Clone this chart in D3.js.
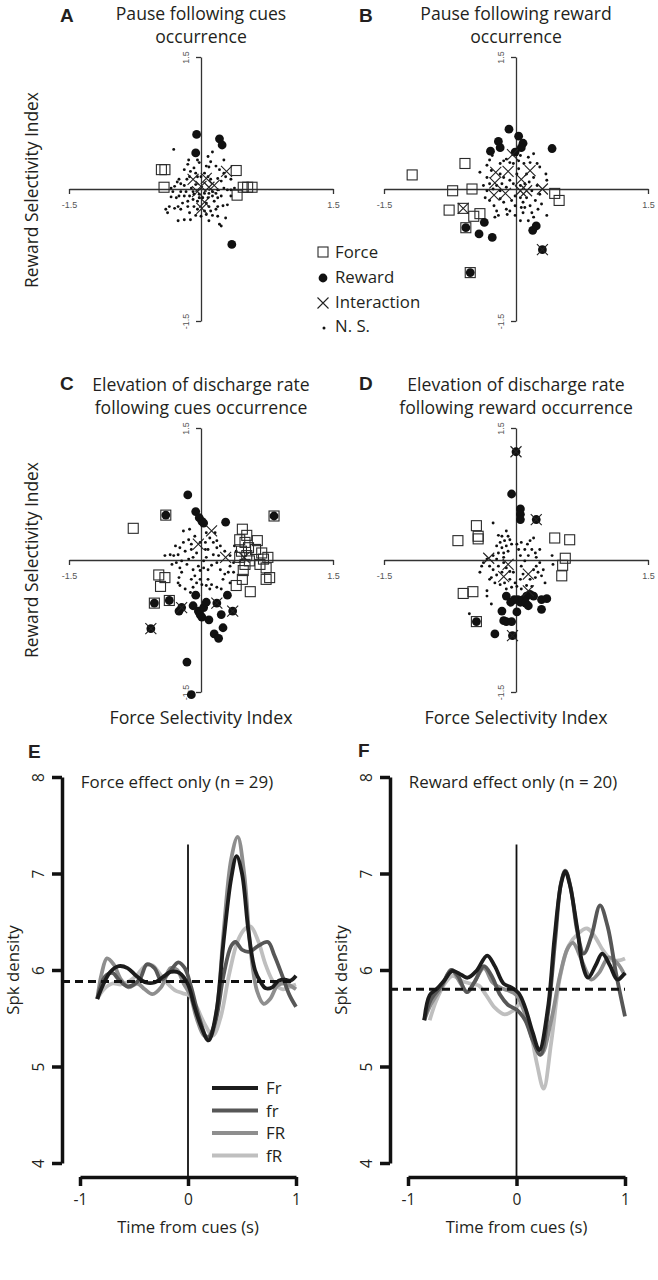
<!DOCTYPE html>
<html><head><meta charset="utf-8">
<script src="https://cdn.jsdelivr.net/npm/d3@7"></script>
<style>
body{margin:0;background:#fff;}
svg{display:block;font-family:"Open Sans",sans-serif;}
</style></head><body>
<svg id="c" width="658" height="1280"></svg>
<script>
// ---------- Scatter data (Force selectivity index, Reward selectivity index) ----------
const aForce = [[-0.45,0.22],[-0.41,0.22],[-0.42,0.02],[0.40,0.21],[0.41,-0.07],[0.48,0.02],[0.53,0.02],[0.58,0.02]];
const aReward = [[-0.05,0.62],[0.21,0.57],[0.24,0.50],[-0.06,0.41],[0.35,-0.63]];
const aInter = [[0.29,0.20],[-0.09,0.11],[0.06,0.12],[0.00,0.03],[0.09,0.02],[0.15,0.04],[0.04,-0.15],[0.01,-0.22],[-0.04,-0.03]];
const aNS = [[-0.31,0.45],[-0.14,0.33],[-0.04,0.33],[-0.02,0.30],[0.08,0.37],[0.11,0.31],[0.13,0.42],[0.26,0.33],[0.06,0.26],[0.09,0.25],[0.17,0.26],[0.21,0.22],[0.26,0.18],[0.28,0.14],[0.34,0.11],[-0.15,0.28],[-0.19,0.22],[-0.12,0.20],[-0.08,0.24],[-0.06,0.18],[-0.04,0.14],[-0.13,0.14],[-0.16,0.11],[-0.25,0.11],[-0.27,0.08],[-0.23,0.06],[-0.30,0.03],[-0.34,0.01],[-0.19,0.04],[-0.11,0.01],[-0.06,0.05],[0.00,0.14],[0.04,0.18],[0.08,0.14],[0.11,0.11],[0.19,0.12],[0.23,0.09],[0.26,0.01],[0.30,-0.01],[0.34,-0.01],[0.19,-0.01],[0.17,-0.05],[0.13,-0.03],[0.09,-0.05],[0.04,-0.05],[-0.02,-0.06],[-0.08,-0.06],[-0.13,-0.08],[-0.19,-0.08],[-0.25,-0.08],[-0.28,-0.10],[-0.34,-0.09],[-0.09,-0.12],[-0.15,-0.14],[-0.21,-0.16],[-0.26,-0.20],[-0.30,-0.22],[-0.36,-0.20],[-0.40,-0.23],[-0.38,-0.27],[-0.23,-0.23],[-0.15,-0.20],[-0.08,-0.20],[-0.04,-0.23],[0.06,-0.16],[0.09,-0.20],[0.11,-0.25],[0.15,-0.14],[0.19,-0.20],[0.25,-0.19],[0.30,-0.18],[0.13,-0.08],[0.19,-0.10],[0.23,-0.08],[0.08,-0.10],[-0.04,-0.14],[-0.13,-0.27],[-0.06,-0.30],[0.06,-0.29],[0.13,-0.30],[0.19,-0.31],[-0.26,-0.36],[-0.19,-0.35],[-0.12,-0.35],[0.09,-0.36],[0.21,-0.40],[0.23,-0.42],[0.28,-0.33],[0.17,-0.23],[0.04,-0.25],[0.00,-0.31],[-0.02,-0.10],[0.02,-0.10],[-0.09,-0.03],[-0.17,-0.03],[-0.23,-0.03],[-0.32,-0.03],[0.34,-0.08],[0.38,0.01]];

const bForce = [[-0.58,0.29],[-1.18,0.16],[-0.72,-0.02],[-0.50,0.00],[-0.76,-0.24],[-0.60,-0.22],[-0.48,-0.31],[-0.41,-0.28],[-0.57,-0.44],[-0.52,-0.95],[0.44,-0.05],[0.49,-0.13]];
const bReward = [[-0.08,0.68],[0.03,0.60],[0.08,0.52],[0.06,0.47],[-0.20,0.54],[-0.18,0.47],[-0.29,0.43],[-0.01,0.42],[0.41,0.46],[-0.36,-0.38],[-0.42,-0.51],[-0.27,-0.55],[-0.57,-0.44],[0.19,-0.47],[0.23,-0.42],[0.30,-0.69],[-0.52,-0.95]];
const bInter = [[-0.04,0.39],[-0.23,0.19],[-0.09,0.20],[0.16,0.21],[0.06,0.11],[-0.24,0.07],[0.12,-0.02],[0.30,0.00],[-0.25,-0.07],[-0.12,-0.05],[0.05,-0.02],[-0.60,-0.22],[0.30,-0.69]];
const bNS = [[-0.41,0.19],[-0.33,0.27],[-0.28,0.21],[-0.33,0.13],[-0.37,0.04],[-0.33,-0.02],[-0.35,-0.10],[-0.30,-0.13],[-0.25,-0.19],[-0.22,-0.25],[-0.20,-0.30],[-0.24,-0.32],[-0.18,0.29],[-0.14,0.32],[-0.11,0.34],[-0.07,0.30],[-0.03,0.29],[0.03,0.32],[0.05,0.38],[0.14,0.36],[0.20,0.40],[0.24,0.29],[0.27,0.25],[0.34,0.17],[0.35,0.10],[0.20,0.13],[0.24,0.04],[0.18,-0.02],[0.12,-0.10],[0.08,-0.15],[0.10,-0.21],[0.16,-0.19],[0.22,-0.13],[0.25,-0.23],[0.20,-0.32],[0.14,-0.36],[0.05,-0.36],[-0.01,-0.30],[-0.07,-0.25],[-0.11,-0.23],[-0.14,-0.15],[-0.18,-0.11],[-0.11,0.02],[-0.16,0.06],[-0.14,0.13],[-0.18,0.17],[-0.07,0.10],[-0.03,0.06],[0.01,0.17],[0.03,0.23],[0.09,0.29],[0.12,0.17],[0.15,0.08],[0.05,0.04],[-0.05,-0.13],[-0.01,-0.08],[0.05,-0.10],[0.06,-0.21],[-0.01,-0.19],[-0.18,-0.02],[-0.26,0.00],[-0.30,0.06],[-0.22,0.04],[0.27,-0.06],[0.29,-0.17],[0.35,-0.30],[0.18,-0.27],[0.08,-0.27],[-0.10,-0.29],[0.10,0.06],[0.16,0.30],[-0.30,0.33],[-0.27,0.38]];

const cForce = [[-0.77,0.36],[-0.40,0.51],[0.83,0.50],[0.47,0.35],[0.52,0.28],[0.44,0.23],[0.50,0.20],[0.46,0.10],[0.54,0.14],[0.64,0.22],[0.62,0.12],[0.69,0.08],[0.71,0.01],[0.76,0.03],[0.67,-0.05],[0.74,-0.09],[0.50,-0.05],[0.48,-0.12],[0.52,0.05],[0.44,0.03],[0.55,-0.01],[0.78,-0.20],[0.74,-0.22],[0.40,-0.29],[0.47,-0.22],[0.56,-0.36],[-0.48,-0.17],[-0.41,-0.20],[-0.46,-0.30],[-0.53,-0.49],[-0.36,-0.46]];
const cReward = [[-0.15,0.74],[-0.06,0.55],[-0.02,0.48],[0.01,0.44],[0.03,0.42],[0.28,0.43],[-0.40,0.51],[0.83,0.50],[-0.06,-0.40],[0.30,-0.40],[-0.36,-0.46],[-0.53,-0.49],[-0.22,-0.54],[-0.25,-0.58],[-0.09,-0.52],[-0.03,-0.58],[-0.01,-0.62],[0.01,-0.65],[0.03,-0.54],[0.06,-0.48],[0.09,-0.68],[0.18,-0.49],[0.23,-0.62],[0.36,-0.58],[0.25,-0.77],[0.15,-0.84],[0.20,-0.89],[-0.57,-0.78],[-0.16,-1.16],[-0.11,-1.53]];
const cInter = [[0.12,0.33],[-0.03,0.18],[0.28,0.03],[0.49,0.03],[-0.22,-0.54],[0.18,-0.49],[0.36,-0.58],[-0.57,-0.78]];
const cNS = [[-0.20,0.33],[-0.13,0.35],[-0.07,0.27],[-0.14,0.23],[-0.20,0.20],[-0.24,0.14],[-0.29,0.16],[-0.35,0.06],[-0.41,0.05],[-0.31,0.05],[-0.26,0.06],[-0.18,0.10],[-0.11,0.12],[-0.05,0.08],[-0.09,0.03],[-0.14,0.01],[-0.22,-0.01],[-0.28,-0.03],[-0.33,-0.05],[-0.24,-0.09],[-0.22,-0.14],[-0.25,-0.20],[-0.26,-0.26],[-0.24,-0.29],[-0.18,-0.33],[-0.12,-0.37],[-0.09,-0.31],[-0.05,-0.26],[-0.01,-0.22],[-0.07,-0.18],[-0.09,-0.11],[-0.03,-0.07],[0.03,-0.09],[0.08,-0.11],[0.12,-0.06],[0.18,-0.03],[0.22,-0.11],[0.27,-0.16],[0.31,-0.14],[0.33,-0.07],[0.37,-0.03],[0.33,0.05],[0.27,0.10],[0.22,0.16],[0.18,0.22],[0.14,0.20],[0.10,0.25],[0.16,0.31],[0.06,0.31],[0.05,0.20],[0.08,0.12],[0.14,0.06],[0.20,0.05],[0.06,0.03],[0.03,-0.01],[0.08,-0.22],[0.12,-0.28],[0.18,-0.31],[0.23,-0.33],[0.01,-0.28],[0.05,0.12],[-0.01,0.20],[0.18,0.14],[0.38,0.16],[0.40,0.10],[0.37,-0.14],[0.25,-0.22],[0.33,-0.26],[0.06,-0.29],[-0.11,-0.22],[-0.11,0.18],[-0.16,-0.05],[-0.01,-0.12],[0.10,-0.33]];

const dForce = [[-0.45,0.39],[-0.43,0.27],[-0.43,0.24],[-0.66,0.22],[0.44,0.25],[0.61,0.23],[0.56,0.02],[0.53,-0.06],[0.52,-0.18],[-0.60,-0.38],[-0.49,-0.36],[-0.45,-0.70]];
const dReward = [[0.00,1.23],[-0.05,0.75],[0.05,0.58],[0.05,0.52],[0.05,0.46],[0.23,0.46],[-0.45,-0.70],[-0.04,-0.86],[-0.24,-0.84],[-0.16,-0.58],[-0.14,-0.69],[-0.11,-0.70],[-0.05,-0.70],[0.01,-0.59],[-0.11,-0.41],[-0.06,-0.48],[-0.02,-0.45],[0.02,-0.45],[0.05,-0.48],[0.08,-0.45],[0.11,-0.49],[0.14,-0.52],[0.12,-0.41],[0.16,-0.39],[0.20,-0.41],[0.29,-0.45],[0.35,-0.44],[0.29,-0.56]];
const dInter = [[0.00,1.23],[0.23,0.46],[-0.04,-0.86],[-0.31,0.02],[-0.09,-0.05],[-0.14,-0.19],[0.14,-0.16],[0.14,-0.35]];
const dNS = [[-0.26,0.42],[-0.20,0.28],[-0.16,0.27],[-0.11,0.33],[-0.09,0.27],[-0.13,0.22],[-0.07,0.23],[-0.18,0.20],[-0.22,0.16],[-0.16,0.14],[-0.11,0.16],[-0.05,0.18],[-0.09,0.10],[-0.14,0.08],[-0.20,0.08],[-0.26,0.05],[-0.33,0.01],[-0.37,-0.03],[-0.30,-0.07],[-0.26,-0.11],[-0.20,-0.07],[-0.14,-0.03],[-0.11,-0.09],[-0.07,-0.13],[-0.03,-0.14],[-0.16,-0.14],[-0.22,-0.17],[-0.28,-0.20],[-0.24,-0.26],[-0.18,-0.28],[-0.13,-0.26],[-0.07,-0.22],[-0.01,-0.26],[0.05,-0.22],[0.08,-0.16],[0.06,-0.07],[0.10,-0.01],[0.14,0.05],[0.10,0.12],[0.13,0.18],[0.16,0.22],[0.20,0.25],[0.18,0.12],[0.22,0.08],[0.23,0.03],[0.27,-0.03],[0.23,-0.07],[0.20,-0.11],[0.25,-0.14],[0.29,-0.18],[0.22,-0.20],[0.16,-0.22],[0.12,-0.29],[0.18,-0.30],[0.06,-0.33],[0.01,-0.30],[-0.05,-0.31],[-0.11,-0.33],[-0.33,-0.41],[-0.30,-0.22],[-0.41,-0.14],[-0.39,-0.07],[0.33,-0.26],[0.41,0.05],[0.42,-0.05],[0.27,0.12],[0.05,0.05],[0.03,0.12],[0.01,0.18],[0.06,0.20],[-0.53,-0.61],[-0.28,-0.50],[-0.33,-0.35],[-0.14,0.03],[-0.22,0.01],[0.31,-0.11]];

// ---------- Spike density curves [time (s), spk density] ----------
const eFr = [[-0.84,5.70],[-0.78,5.86],[-0.72,5.98],[-0.64,6.04],[-0.56,6.02],[-0.48,5.94],[-0.39,5.87],[-0.31,5.87],[-0.23,5.93],[-0.16,5.98],[-0.08,5.97],[0,5.85],[0.06,5.62],[0.12,5.42],[0.19,5.27],[0.26,5.55],[0.33,6.30],[0.40,6.95],[0.45,7.18],[0.50,7.00],[0.56,6.40],[0.62,6.00],[0.67,5.88],[0.72,5.81],[0.78,5.82],[0.84,5.89],[0.90,5.90],[0.95,5.89],[1.0,5.94]];
const efr = [[-0.84,5.70],[-0.77,5.93],[-0.70,5.97],[-0.64,5.90],[-0.56,5.83],[-0.45,5.90],[-0.38,6.06],[-0.31,6.02],[-0.25,5.90],[-0.17,5.98],[-0.09,6.08],[-0.03,6.02],[0.03,5.82],[0.10,5.52],[0.18,5.30],[0.25,5.45],[0.33,5.95],[0.40,6.25],[0.44,6.29],[0.50,6.21],[0.57,6.19],[0.65,6.25],[0.74,6.29],[0.80,6.15],[0.87,5.95],[0.94,5.74],[1.0,5.62]];
const eFR = [[-0.84,5.70],[-0.80,5.96],[-0.75,6.12],[-0.69,6.06],[-0.62,5.90],[-0.55,5.82],[-0.47,5.86],[-0.40,5.80],[-0.33,5.75],[-0.25,5.82],[-0.16,6.02],[-0.10,6.00],[-0.04,5.86],[0.02,5.74],[0.08,5.50],[0.15,5.32],[0.21,5.32],[0.27,5.62],[0.33,6.40],[0.40,7.15],[0.46,7.38],[0.52,7.00],[0.58,6.20],[0.64,5.78],[0.70,5.65],[0.76,5.70],[0.83,5.84],[0.90,5.86],[1.0,5.80]];
const efR = [[-0.84,5.70],[-0.78,5.80],[-0.70,5.86],[-0.62,5.85],[-0.55,5.88],[-0.47,5.95],[-0.40,6.04],[-0.33,6.05],[-0.26,5.96],[-0.19,5.86],[-0.12,5.79],[-0.05,5.76],[0.02,5.73],[0.08,5.62],[0.15,5.45],[0.23,5.32],[0.30,5.50],[0.38,5.95],[0.46,6.30],[0.53,6.43],[0.58,6.45],[0.65,6.30],[0.72,6.05],[0.80,5.86],[0.88,5.80],[0.95,5.83],[1.0,5.85]];
const eBaseline = 5.88;

const fFr = [[-0.85,5.48],[-0.80,5.74],[-0.73,5.81],[-0.66,5.90],[-0.59,5.99],[-0.51,5.95],[-0.45,5.92],[-0.37,5.99],[-0.27,6.15],[-0.20,6.04],[-0.12,5.86],[-0.05,5.82],[0.02,5.76],[0.08,5.61],[0.15,5.35],[0.21,5.17],[0.29,5.61],[0.35,6.33],[0.41,6.89],[0.45,7.02],[0.49,6.89],[0.56,6.43],[0.61,6.05],[0.66,5.92],[0.73,6.05],[0.79,6.17],[0.86,6.05],[0.93,5.90],[1.0,5.97]];
const ffr = [[-0.85,5.48],[-0.79,5.69],[-0.69,5.84],[-0.60,6.00],[-0.54,5.94],[-0.46,5.77],[-0.39,5.87],[-0.30,6.04],[-0.23,5.94],[-0.15,5.74],[-0.08,5.64],[0,5.59],[0.08,5.48],[0.15,5.27],[0.22,5.12],[0.29,5.55],[0.36,6.35],[0.41,6.90],[0.45,7.03],[0.50,6.85],[0.56,6.40],[0.62,6.17],[0.69,6.35],[0.77,6.67],[0.84,6.45],[0.92,5.95],[1.0,5.52]];
const fFR = [[-0.85,5.48],[-0.79,5.64],[-0.69,5.82],[-0.60,6.00],[-0.52,5.87],[-0.45,5.77],[-0.39,5.87],[-0.30,6.02],[-0.22,5.87],[-0.14,5.81],[-0.08,5.79],[0,5.74],[0.08,5.54],[0.15,5.28],[0.23,5.13],[0.32,5.48],[0.40,5.94],[0.47,6.22],[0.52,6.28],[0.59,6.13],[0.65,5.97],[0.69,5.90],[0.76,5.97],[0.85,6.13],[0.93,6.07],[1.0,5.94]];
const ffR = [[-0.80,5.48],[-0.74,5.68],[-0.66,5.86],[-0.59,5.94],[-0.51,5.89],[-0.43,5.86],[-0.35,5.84],[-0.28,5.74],[-0.20,5.61],[-0.11,5.54],[-0.03,5.58],[0.05,5.66],[0.12,5.41],[0.19,5.02],[0.25,4.77],[0.32,5.25],[0.40,5.92],[0.48,6.25],[0.57,6.38],[0.65,6.43],[0.72,6.35],[0.80,6.20],[0.88,6.10],[0.95,6.10],[1.0,6.12]];
const fBaseline = 5.80;

const conditions = ["Fr","fr","FR","fR"];
const condColors = ["#1c1c1c","#575757","#8e8e8e","#bfbfbf"];
const scatterTicks = [-1.5, 1.5];
const densityTicks = [4,5,6,7,8];
const timeTicks = [-1,0,1];

// ---------- drawing ----------
const svg = d3.select("#c");
const INK = "#231f20";

function txt(g, x, y, s, size, opts={}) {
  const t = g.append("text").attr("x", x).attr("y", y).text(s)
    .attr("font-size", size).attr("fill", INK)
    .attr("text-anchor", opts.anchor || "middle");
  if (opts.rot) t.attr("transform", `rotate(-90,${x},${y})`);
  if (opts.bold) t.attr("font-weight", "bold").attr("font-family", "'Liberation Sans',Arial,sans-serif");
  return t;
}

function drawScatter(cx, cy, force, reward, inter, ns, titleLines) {
  const H = 132;
  const x = d3.scaleLinear().domain([-1.5,1.5]).range([cx-H, cx+H]);
  const y = d3.scaleLinear().domain([-1.5,1.5]).range([cy+H, cy-H]);
  const g = svg.append("g");

  const ax = g.append("g").attr("transform", `translate(0,${y(0)})`)
    .call(d3.axisBottom(x).tickValues(scatterTicks).tickSize(5).tickSizeOuter(0).tickFormat(d => d));
  ax.selectAll("text").attr("y", 13).attr("font-size", 9).attr("fill", "#555")
    .attr("font-family", "'Liberation Sans',Arial,sans-serif");
  const ay = g.append("g").attr("transform", `translate(${x(0)},0)`)
    .call(d3.axisLeft(y).tickValues(scatterTicks).tickSize(5).tickSizeOuter(0).tickFormat(d => d));
  ay.selectAll("text").attr("x", 0).attr("dy", 0).attr("text-anchor", "middle")
    .attr("transform", "translate(-12,0) rotate(-90)")
    .attr("font-size", 9).attr("fill", "#555").attr("font-family", "'Liberation Sans',Arial,sans-serif");
  [ax, ay].forEach(a => {
    a.select(".domain").attr("stroke", "#333").attr("stroke-width", 1.3);
    a.selectAll(".tick line").attr("stroke", "#333").attr("stroke-width", 1.3);
  });

  g.append("g").selectAll("circle").data(ns).join("circle")
    .attr("cx", d => x(d[0])).attr("cy", d => y(d[1])).attr("r", 1.45).attr("fill", "#111");
  g.append("g").selectAll("rect").data(force).join("rect")
    .attr("x", d => x(d[0]) - 5).attr("y", d => y(d[1]) - 5).attr("width", 10).attr("height", 10)
    .attr("fill", "none").attr("stroke", "#2a2a2a").attr("stroke-width", 1.1);
  g.append("g").selectAll("circle").data(reward).join("circle")
    .attr("cx", d => x(d[0])).attr("cy", d => y(d[1])).attr("r", 4.4).attr("fill", "#111");
  g.append("g").selectAll("path").data(inter).join("path")
    .attr("d", d => { const px = x(d[0]), py = y(d[1]), s = 5.5;
      return `M${px-s},${py-s}L${px+s},${py+s}M${px+s},${py-s}L${px-s},${py+s}`; })
    .attr("stroke", "#222").attr("stroke-width", 1.1).attr("fill", "none");

  titleLines.forEach((s, i) => txt(svg, cx, (cy - 169) + i * 23, s, 17.6));
}

drawScatter(201, 189, aForce, aReward, aInter, aNS, ["Pause following cues", "occurrence"]);
drawScatter(516, 189, bForce, bReward, bInter, bNS, ["Pause following reward", "occurrence"]);
drawScatter(201, 560, cForce, cReward, cInter, cNS, ["Elevation of discharge rate", "following cues occurrence"]);
drawScatter(516, 560, dForce, dReward, dInter, dNS, ["Elevation of discharge rate", "following reward occurrence"]);

// axis titles for scatters
txt(svg, 38, 190, "Reward Selectivity Index", 17.4, {rot: true});
txt(svg, 38, 560, "Reward Selectivity Index", 17.4, {rot: true});
txt(svg, 201, 724, "Force Selectivity Index", 17.8);
txt(svg, 516, 724, "Force Selectivity Index", 17.8);

// legend (scatter)
const lg = svg.append("g");
lg.append("rect").attr("x", 318).attr("y", 247).attr("width", 10).attr("height", 10)
  .attr("fill", "none").attr("stroke", "#2a2a2a").attr("stroke-width", 1.1);
lg.append("circle").attr("cx", 323).attr("cy", 278).attr("r", 4.4).attr("fill", "#111");
lg.append("path").attr("d", "M317.5,297.5L328.5,308.5M328.5,297.5L317.5,308.5").attr("stroke", "#222").attr("stroke-width", 1.1);
lg.append("circle").attr("cx", 324).attr("cy", 328).attr("r", 1.5).attr("fill", "#111");
[["Force",258],["Reward",283],["Interaction",308],["N. S.",332]].forEach(([s, yy]) =>
  txt(lg, 335, yy, s, 16.8, {anchor: "start"}));

// panel letters
[["A",60,22],["B",359,22],["C",60,390],["D",359,390],["E",28,758],["F",358,757]].forEach(([s,xx,yy]) =>
  txt(svg, xx, yy, s, 19, {anchor: "start", bold: true}));

// ---------- density panels ----------
function drawDensity(x0, x1, axisX, series, baseline, title, titleX, legend) {
  const x = d3.scaleLinear().domain([-1,1]).range([x0, x1]);
  const y = d3.scaleLinear().domain([4,8]).range([1163, 777]);
  const g = svg.append("g");

  const ay = g.append("g").attr("transform", `translate(${axisX},0)`)
    .call(d3.axisLeft(y).tickValues(densityTicks).tickSize(10).tickSizeOuter(0).tickFormat(d => d));
  ay.selectAll("text").attr("x", 0).attr("dy", 0).attr("text-anchor", "middle")
    .attr("transform", "translate(-18,0) rotate(-90)").attr("font-size", 15.5).attr("fill", INK)
    .attr("font-family", "'Open Sans',sans-serif");
  const ax = g.append("g").attr("transform", "translate(0,1177)")
    .call(d3.axisBottom(x).tickValues(timeTicks).tickSize(9).tickSizeOuter(0).tickFormat(d => d));
  ax.selectAll("text").attr("y", 17).attr("font-size", 15.5).attr("fill", INK)
    .attr("font-family", "'Open Sans',sans-serif");
  [ax, ay].forEach(a => {
    a.select(".domain").attr("stroke", "#111").attr("stroke-width", 3.5);
    a.selectAll(".tick line").attr("stroke", "#111").attr("stroke-width", 3.5);
  });

  // cue onset line
  g.append("line").attr("x1", x(0)).attr("x2", x(0)).attr("y1", y(7.3)).attr("y2", 1177)
    .attr("stroke", "#111").attr("stroke-width", 1.8);

  const line = d3.line().x(d => x(d[0])).y(d => y(d[1])).curve(d3.curveCatmullRom.alpha(0.5));
  for (let i = series.length - 1; i >= 0; i--) {
    g.append("path").attr("d", line(series[i])).attr("fill", "none")
      .attr("stroke", condColors[i]).attr("stroke-width", 3.8).attr("stroke-linejoin", "round");
  }
  // baseline
  g.append("line").attr("x1", axisX).attr("x2", x(1)).attr("y1", y(baseline)).attr("y2", y(baseline))
    .attr("stroke", "#111").attr("stroke-width", 3).attr("stroke-dasharray", "8,5");

  txt(g, titleX, 788, title, 16.9);
  txt(g, x(0), 1233, "Time from cues (s)", 16.6);
  txt(g, axisX - 43, 970, "Spk density", 16.8, {rot: true});

  if (legend) {
    conditions.forEach((c, i) => {
      const yy = 1088 + i * 22.5;
      g.append("line").attr("x1", 212).attr("x2", 258).attr("y1", yy).attr("y2", yy)
        .attr("stroke", condColors[i]).attr("stroke-width", 3.8);
      txt(g, 266, yy + 6, c, 16.8, {anchor: "start"});
    });
  }
}

drawDensity(80, 296, 62, [eFr, efr, eFR, efR], eBaseline, "Force effect only (n = 29)", 177, true);
drawDensity(408, 625, 390, [fFr, ffr, fFR, ffR], fBaseline, "Reward effect only (n = 20)", 513, false);
</script>
</body></html>
